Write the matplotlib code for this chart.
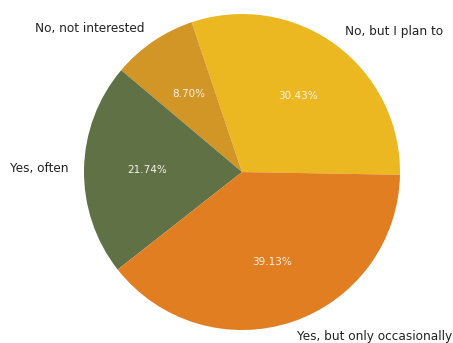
import matplotlib
matplotlib.use("Agg")
import matplotlib.pyplot as plt

# survey answers (counts out of 23)
labels = ["No, but I plan to", "No, not interested", "Yes, often", "Yes, but only occasionally"]
counts = [7, 2, 5, 9]
colors = ["#ECB822", "#D29626", "#617146", "#E27E22"]

fig = plt.figure(figsize=(4.53, 3.43), dpi=100)
ax = fig.add_axes([0.0982, -0.0773, 0.872, 1.1516])

wedges, texts, autotexts = ax.pie(
    counts, labels=labels, colors=colors, startangle=-1,
    autopct="%1.2f%%", textprops={"fontsize": 8.7, "color": "#222222"},
)
for t in autotexts:
    t.set_color("#f4f1ea")
    t.set_fontsize(7.5)
ax.set_aspect("equal")

fig.savefig("out.png", dpi=100)
